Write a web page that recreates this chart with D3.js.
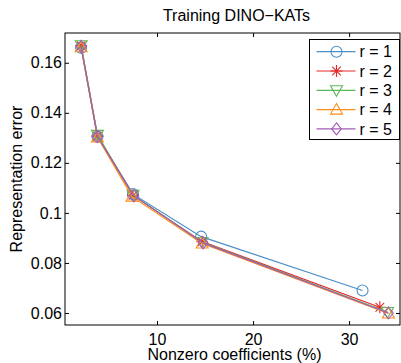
<!DOCTYPE html>
<head>
  <meta charset="utf-8" />
  <script src="https://d3js.org/d3.v7.min.js"></script>
  <style>
    body { margin: 0; background: #fff; }
    text { font-family: "Liberation Sans", Arial, sans-serif; fill: #000; }
  </style>
</head>
<body>
<div id="chart"></div>
<script>
// data
var seriesNames = ["r = 1", "r = 2", "r = 3", "r = 4", "r = 5"];
var colors = ["#4a8fc7", "#e8292b", "#5cb85a", "#ff8c1a", "#a05cb5"];
var markers = ["circle", "star", "down", "up", "diamond"];

var xR1 = [2.1, 3.8, 7.5, 14.6, 31.4];
var yR1 = [0.1660, 0.1305, 0.1075, 0.0905, 0.0690];
var xR2 = [2.1, 3.8, 7.5, 14.7, 33.2];
var yR2 = [0.1668, 0.1307, 0.1070, 0.0885, 0.0623];
var xR3 = [2.1, 3.8, 7.5, 14.7, 34.0];
var yR3 = [0.1670, 0.1312, 0.1072, 0.0883, 0.0604];
var xR4 = [2.1, 3.8, 7.4, 14.7, 34.1];
var yR4 = [0.1662, 0.1302, 0.1065, 0.0878, 0.0598];
var xR5 = [2.1, 3.8, 7.6, 14.8, 34.1];
var yR5 = [0.1665, 0.1305, 0.1068, 0.0880, 0.0600];

var xTicks = [10, 20, 30];
var yTicks = [0.06, 0.08, 0.1, 0.12, 0.14, 0.16];
var yTickLabels = ["0.06", "0.08", "0.1", "0.12", "0.14", "0.16"];

var series = [[xR1, yR1], [xR2, yR2], [xR3, yR3], [xR4, yR4], [xR5, yR5]].map(function (s, i) {
  return { name: seriesNames[i], color: colors[i], marker: markers[i],
           pts: s[0].map(function (x, j) { return [x, s[1][j]]; }) };
});

var W = 401, H = 363;
var margin = {top: 33, right: 1, bottom: 38, left: 65},
    width = W - margin.left - margin.right,
    height = H - margin.top - margin.bottom;

var svg = d3.select("#chart").append("svg")
  .attr("width", W).attr("height", H)
  .append("g")
  .attr("transform", "translate(" + margin.left + "," + margin.top + ")");

var x = d3.scaleLinear().domain([0.42, 35.3]).range([0, width]);
var y = d3.scaleLinear().domain([0.0552, 0.1719]).range([height, 0]);

var fs = "16px";

// axes with inward ticks
svg.append("g")
  .attr("transform", "translate(0," + height + ")")
  .call(d3.axisBottom(x).tickValues(xTicks).tickSize(-4).tickPadding(9).tickFormat(d3.format("d")))
  .call(function (g) { g.select(".domain").remove(); g.selectAll("text").style("font-size", fs); });
svg.append("g")
  .call(d3.axisTop(x).tickValues(xTicks).tickSize(-4).tickFormat(""))
  .call(function (g) { g.select(".domain").remove(); });
svg.append("g")
  .call(d3.axisLeft(y).tickValues(yTicks).tickSize(-4).tickPadding(3)
    .tickFormat(function (d, i) { return yTickLabels[i]; }))
  .call(function (g) { g.select(".domain").remove(); g.selectAll("text").style("font-size", fs); });
svg.append("g")
  .attr("transform", "translate(" + width + ",0)")
  .call(d3.axisRight(y).tickValues(yTicks).tickSize(-4).tickFormat(""))
  .call(function (g) { g.select(".domain").remove(); });

svg.append("rect")
  .attr("x", 0).attr("y", 0).attr("width", width).attr("height", height)
  .attr("fill", "none").attr("stroke", "#000").attr("stroke-width", 1);

// marker shapes
function markerPath(type, s) {
  if (type === "circle") return d3.symbol(d3.symbolCircle, Math.PI * 5.5 * 5.5)();
  if (type === "diamond") return "M0," + (-s) + "L" + s * 0.8 + ",0L0," + s + "L" + (-s * 0.8) + ",0Z";
  if (type === "up") return "M0," + (-s) + "L" + s + "," + s * 0.75 + "L" + (-s) + "," + s * 0.75 + "Z";
  if (type === "down") return "M0," + s + "L" + s + "," + (-s * 0.75) + "L" + (-s) + "," + (-s * 0.75) + "Z";
  var a = s * 0.72;
  return "M0," + (-s) + "L0," + s + "M" + (-s) + ",0L" + s + ",0M" + (-a) + "," + (-a) + "L" + a + "," + a + "M" + (-a) + "," + a + "L" + a + "," + (-a);
}

var line = d3.line().x(function (d) { return x(d[0]); }).y(function (d) { return y(d[1]); });

series.forEach(function (s) {
  var g = svg.append("g");
  g.append("path").datum(s.pts).attr("d", line)
    .attr("fill", "none").attr("stroke", s.color).attr("stroke-width", 1.2);
  g.selectAll("path.m").data(s.pts).enter().append("path")
    .attr("class", "m")
    .attr("transform", function (d) { return "translate(" + x(d[0]) + "," + y(d[1]) + ")"; })
    .attr("d", markerPath(s.marker, 6))
    .attr("fill", "none").attr("stroke", s.color).attr("stroke-width", 1.1);
});

// legend
var leg = svg.append("g").attr("transform", "translate(" + (309.5 - margin.left) + "," + (39.5 - margin.top) + ")");
leg.append("rect").attr("width", 90).attr("height", 100)
  .attr("fill", "#fff").attr("stroke", "#000").attr("stroke-width", 1);
series.forEach(function (s, i) {
  var cy = 12.2 + i * 19.3;
  leg.append("line").attr("x1", 7).attr("x2", 46).attr("y1", cy).attr("y2", cy)
    .attr("stroke", s.color).attr("stroke-width", 1.2);
  leg.append("path").attr("transform", "translate(27," + cy + ")")
    .attr("d", markerPath(s.marker, 6))
    .attr("fill", "none").attr("stroke", s.color).attr("stroke-width", 1.1);
  leg.append("text").attr("x", 50).attr("y", cy).attr("dy", "0.36em")
    .style("font-size", fs).text(s.name);
});

// titles
svg.append("text")
  .attr("x", width / 2 + 4).attr("y", -12)
  .attr("text-anchor", "middle").style("font-size", fs)
  .text("Training DINO\u2212KATs");
svg.append("text")
  .attr("x", width / 2 + 2).attr("y", height + 35)
  .attr("text-anchor", "middle").style("font-size", fs)
  .text("Nonzero coefficients (%)");
svg.append("text")
  .attr("transform", "translate(" + (-43.5) + "," + (height / 2) + ")rotate(-90)")
  .attr("text-anchor", "middle").style("font-size", fs)
  .text("Representation error");
</script>
</body>
</html>
